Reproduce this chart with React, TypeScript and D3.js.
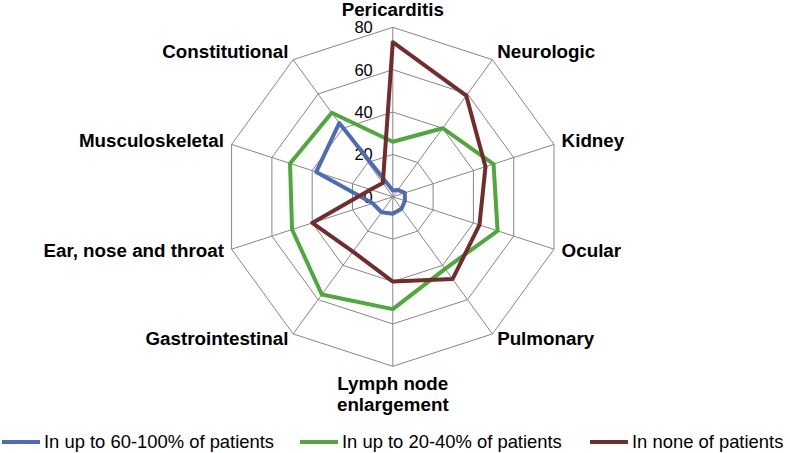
import { useEffect, useRef } from 'react'
import * as d3 from 'd3'

const categories = [
  'Pericarditis', 'Neurologic', 'Kidney', 'Ocular', 'Pulmonary',
  'Lymph node enlargement', 'Gastrointestinal', 'Ear, nose and throat',
  'Musculoskeletal', 'Constitutional',
]
const ticks = [0, 20, 40, 60, 80]

const seriesNames = ['In up to 60-100% of patients', 'In up to 20-40% of patients', 'In none of patients']
const highValues = [3, 4, 6, 6, 7, 8, 9, 10, 38, 43]
const midValues = [26, 40, 50, 52, 42, 53, 57, 50, 51, 49]
const noneValues = [73, 59, 46, 43, 48, 40, 32, 40, 11, 8]
const colors = ['#4e6bb6', '#4ea83c', '#722c2c']

export default function App() {
  const svgRef = useRef<SVGSVGElement>(null)

  useEffect(() => {
    const w = 790
    const h = 453
    const cx = 392.8
    const cy = 196.8
    const svg = d3.select(svgRef.current)
      .attr('width', w)
      .attr('height', h)
    svg.selectAll('*').remove()

    const r = d3.scaleLinear().domain([0, 80]).range([0, 169.5])
    const angle = d3.scaleLinear().domain([0, categories.length]).range([0, 2 * Math.PI])
    const pt = (i: number, v: number) => [cx + r(v) * Math.sin(angle(i)), cy - r(v) * Math.cos(angle(i))]

    const g = svg.append('g')

    // grid rings
    ticks.slice(1).forEach(t => {
      g.append('path')
        .attr('d', d3.line()(categories.map((_, i) => pt(i, t) as [number, number])) + 'Z')
        .attr('fill', 'none')
        .attr('stroke', '#868686')
        .attr('stroke-width', 1)
    })
    // spokes
    categories.forEach((_, i) => {
      const [x, y] = pt(i, 80)
      g.append('line')
        .attr('x1', cx).attr('y1', cy).attr('x2', x).attr('y2', y)
        .attr('stroke', '#868686').attr('stroke-width', 1)
    })

    // tick labels
    ticks.forEach(t => {
      g.append('text')
        .attr('x', cx - 20)
        .attr('y', cy - r(t) + 1.5)
        .attr('text-anchor', 'end')
        .attr('dominant-baseline', 'middle')
        .attr('font-family', 'Liberation Sans, Arial, sans-serif')
        .attr('font-size', 16.5)
        .attr('fill', '#000')
        .text(t)
    })

    // series
    const radial = d3.lineRadial<number>()
      .angle((d, i) => angle(i))
      .radius(d => r(d))
      .curve(d3.curveLinearClosed)
    ;[highValues, midValues, noneValues].forEach((vals, k) => {
      g.append('path')
        .attr('transform', `translate(${cx},${cy})`)
        .attr('d', radial(vals))
        .attr('fill', 'none')
        .attr('stroke', colors[k])
        .attr('stroke-width', 4)
        .attr('stroke-linejoin', 'round')
    })

    // category labels
    categories.forEach((c, i) => {
      const a = angle(i)
      const [x, y] = pt(i, 80 + 8 * 80 / 169.5)
      const s = Math.sin(a)
      const anchor = Math.abs(s) < 0.01 ? 'middle' : s > 0 ? 'start' : 'end'
      const txt = g.append('text')
        .attr('x', x)
        .attr('text-anchor', anchor)
        .attr('font-family', 'Liberation Sans, Arial, sans-serif')
        .attr('font-weight', 'bold')
        .attr('font-size', 18.8)
        .attr('fill', '#000')
      if (i === 0) {
        txt.attr('y', y - 3.8).text(c)
      } else if (i === 5) {
        txt.append('tspan').attr('x', x).attr('y', y + 15.5).text('Lymph node')
        txt.append('tspan').attr('x', x).attr('y', y + 37).text('enlargement')
      } else {
        txt.attr('y', y).attr('dominant-baseline', 'middle').text(c)
      }
    })

    // legend
    const legendX = [2, 300, 590]
    seriesNames.forEach((name, k) => {
      const lx = legendX[k]
      svg.append('line')
        .attr('x1', lx).attr('x2', lx + 38)
        .attr('y1', 442).attr('y2', 442)
        .attr('stroke', colors[k]).attr('stroke-width', 4)
      svg.append('text')
        .attr('x', lx + 42)
        .attr('y', 447.6)
        .attr('font-family', 'Liberation Sans, Arial, sans-serif')
        .attr('font-size', 18.4)
        .attr('fill', '#000')
        .text(name)
    })
  }, [])

  return (
    <div style={{ position: 'absolute', left: 0, top: 0 }}>
      <svg ref={svgRef} style={{ display: 'block' }}></svg>
    </div>
  )
}
